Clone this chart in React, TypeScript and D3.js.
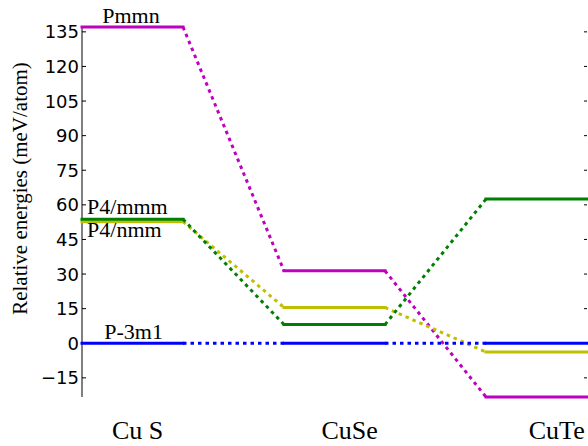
import React, { useEffect, useRef } from 'react';
import * as d3 from 'd3';

// compounds along x, one level per phase
const compounds = ['Cu S', 'CuSe', 'CuTe'];
const phaseNames = ['Pmmn', 'P4/nmm', 'P4/mmm', 'P-3m1'];
const pmmn = [137.1, 31.4, -23.3];
const p4nmm = [52.7, 15.5, -3.8];
const p4mmm = [53.8, 8.1, 62.5];
const p3m1 = [0, 0, 0];
const phaseColors = ['#bf00bf', '#bfbf00', '#008000', '#0000ff'];
const yTicks = [-15, 0, 15, 30, 45, 60, 75, 90, 105, 120, 135];

const W = 588;
const H = 446;

export default function App() {
    const svgRef = useRef<SVGSVGElement>(null);

    useEffect(() => {
        document.body.style.margin = '0';
        const svg = d3.select(svgRef.current);
        svg.selectAll('*').remove();

        const series = [pmmn, p4nmm, p4mmm, p3m1];
        const allValues = series.flat();

        // each compound level spans one unit, connectors span one unit
        const x = d3.scaleLinear().domain([0, 5]).range([82, 587]);
        const y = d3.scaleLinear()
            .domain([d3.min(allValues), d3.max(allValues)])
            .range([397, 27]);

        const serif = '"Liberation Serif", "DejaVu Serif", serif';
        const sans = '"DejaVu Sans", sans-serif';

        // left spine
        svg.append('line')
            .attr('x1', x(0)).attr('x2', x(0))
            .attr('y1', y.range()[0]).attr('y2', y.range()[1])
            .attr('stroke', '#000').attr('stroke-width', 1);

        // ticks pointing inward, both sides
        const ticks = svg.append('g');
        yTicks.forEach((t) => {
            ticks.append('line')
                .attr('x1', x(0)).attr('x2', x(0) + 4)
                .attr('y1', y(t)).attr('y2', y(t))
                .attr('stroke', '#000').attr('stroke-width', 1);
            ticks.append('line')
                .attr('x1', x(5) - 3).attr('x2', x(5))
                .attr('y1', y(t)).attr('y2', y(t))
                .attr('stroke', '#000').attr('stroke-width', 1);
            ticks.append('text')
                .attr('x', x(0) - 3)
                .attr('y', y(t))
                .attr('dy', '0.36em')
                .attr('text-anchor', 'end')
                .attr('font-family', sans)
                .attr('font-size', 18)
                .text(t < 0 ? '\u2212' + Math.abs(t) : String(t));
        });

        // levels and dotted connectors
        const link = d3.line<[number, number]>().x((d) => x(d[0])).y((d) => y(d[1]));
        series.forEach((vals, si) => {
            const g = svg.append('g');
            vals.forEach((v, i) => {
                g.append('path')
                    .attr('d', link([[2 * i, v], [2 * i + 1, v]]))
                    .attr('stroke', phaseColors[si])
                    .attr('stroke-width', 3)
                    .attr('stroke-linecap', 'square')
                    .attr('fill', 'none');
                if (i < vals.length - 1) {
                    g.append('path')
                        .attr('d', link([[2 * i + 1, v], [2 * i + 2, vals[i + 1]]]))
                        .attr('stroke', phaseColors[si])
                        .attr('stroke-width', 3)
                        .attr('stroke-dasharray', '3.5,4')
                        .attr('fill', 'none');
                }
            });
        });

        // phase labels at the Cu S level
        const labelInfo = [
            { name: phaseNames[0], x: 0.2, v: pmmn[0], dy: -4.5 },
            { name: phaseNames[1], x: 0.05, v: p4nmm[0], dy: 15 },
            { name: phaseNames[2], x: 0.05, v: p4mmm[0], dy: -5.5 },
            { name: phaseNames[3], x: 0.22, v: p3m1[0], dy: -4.5 },
        ];
        labelInfo.forEach((l) => {
            svg.append('text')
                .attr('x', x(l.x))
                .attr('y', y(l.v) + l.dy)
                .attr('font-family', serif)
                .attr('font-size', 22)
                .attr('fill', '#000')
                .text(l.name);
        });

        // compound names
        const compoundX = [0.55, 2.65, 4.7];
        compounds.forEach((c, i) => {
            svg.append('text')
                .attr('x', x(compoundX[i]))
                .attr('y', 439)
                .attr('text-anchor', 'middle')
                .attr('font-family', serif)
                .attr('font-size', 26)
                .text(c);
        });

        // y label
        svg.append('text')
            .attr('transform', `translate(27,188.5) rotate(-90)`)
            .attr('text-anchor', 'middle')
            .attr('font-family', serif)
            .attr('font-size', 21)
            .text('Relative energies (meV/atom)');
    }, []);

    return <svg ref={svgRef} width={W} height={H} style={{ display: 'block', background: '#fff' }} />;
}
